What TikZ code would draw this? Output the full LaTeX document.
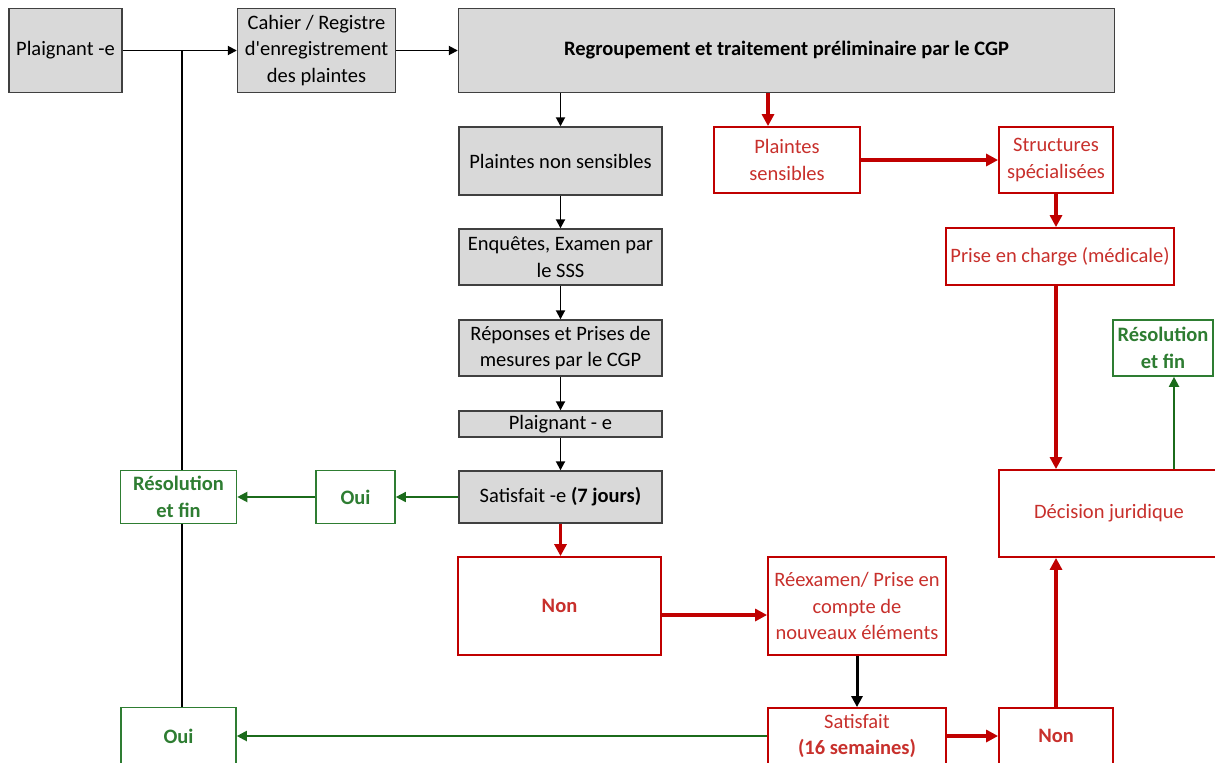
\documentclass[tikz,border=0pt]{standalone}
\usepackage{fontspec}
\setmainfont{Carlito}
\usetikzlibrary{arrows.meta}
\definecolor{boxgray}{HTML}{D9D9D9}
\definecolor{edgegray}{HTML}{404040}
\definecolor{alertred}{HTML}{C00000}
\definecolor{alerttext}{HTML}{C8302C}
\definecolor{okgreen}{HTML}{2E7D32}
\definecolor{okarrow}{HTML}{1B6B1B}

\begin{document}
\begin{tikzpicture}[
  x=0.5pt,y=-0.5pt,
  every node/.style={font=\fontsize{10.25}{13.2}\selectfont,align=center,inner sep=2pt},
  sz/.style 2 args={minimum width=#1*0.5pt,minimum height=#2*0.5pt},
  graybox/.style={draw=edgegray,fill=boxgray,line width=0.7pt},
  redbox/.style={draw=alertred,fill=white,line width=0.9pt,text=alerttext},
  greenbox/.style={draw=okgreen,fill=white,line width=0.8pt,text=okgreen,
    font=\fontsize{10.25}{13.2}\selectfont\bfseries},
  blk/.style={-{Triangle[length=4.5pt,width=4.5pt]},line width=0.9pt},
  blkthick/.style={-{Triangle[length=5.5pt,width=5.5pt]},line width=1.5pt},
  redarr/.style={-{Triangle[length=6pt,width=6pt]},line width=1.6pt,draw=alertred},
  grnarr/.style={-{Triangle[length=5pt,width=5pt]},line width=0.8pt,draw=okarrow}
]
  \useasboundingbox (0,0) rectangle (1215,762);
  \clip (0,0) rectangle (1215,762);

  % intake row
  \node[graybox,sz={113}{84}] (plaig) at (65.5,50.5) {Plaignant -e};
  \node[graybox,sz={158}{84}] (cahier) at (316.5,50.5)
    {Cahier / Registre\\d\textquotesingle enregistrement\\des plaintes};
  \node[graybox,sz={656}{84},font=\fontsize{10.25}{13.2}\selectfont\bfseries] (regroup)
    at (786.5,50.5) {Regroupement et traitement préliminaire par le CGP};

  % non-sensitive track
  \node[graybox,sz={203}{68}] (nonsens) at (560.5,161) {Plaintes non sensibles};
  \node[graybox,sz={203}{56}] (enquete) at (560.5,257) {Enquêtes, Examen par\\le SSS};
  \node[graybox,sz={203}{56}] (reponse) at (560.5,348)
    {Réponses et Prises de\\mesures par le CGP};
  \node[graybox,sz={203}{26}] (plaigb) at (560.5,424) {Plaignant - e};
  \node[graybox,sz={203}{52}] (satsept) at (560.5,497)
    {Satisfait -e \textbf{(7 jours)}};
  \node[greenbox,sz={79}{53}] (ouiA) at (355.5,497) {Oui};
  \node[greenbox,sz={116}{53}] (resolA) at (178.5,497) {Résolution\\et fin};
  \node[redbox,sz={203}{98},font=\fontsize{10.25}{13.2}\selectfont\bfseries] (nonA)
    at (559.5,606) {Non};
  \node[redbox,sz={178}{98}] (reexam) at (857,606)
    {Réexamen/ Prise en\\compte de\\nouveaux éléments};
  \node[redbox,sz={178}{56}] (satseize) at (857,736)
    {Satisfait\\\textbf{(16 semaines)}};
  \node[redbox,sz={114}{56},font=\fontsize{10.25}{13.2}\selectfont\bfseries] (nonB)
    at (1056,736) {Non};
  \node[greenbox,sz={115}{57}] (ouiB) at (178.5,736) {Oui};

  % sensitive track
  \node[redbox,sz={146}{66}] (sens) at (787,160) {Plaintes\\sensibles};
  \node[redbox,sz={114}{66}] (struct) at (1056,160) {Structures\\spécialisées};
  \node[redbox,sz={228}{57}] (prise) at (1060,256.5) {Prise en charge (médicale)};
  \node[redbox,sz={220}{87}] (decis) at (1109,513.5) {Décision juridique};
  \node[greenbox,sz={100}{56}] (resolB) at (1163,348) {Résolution\\et fin};

  % connectors
  \coordinate (tap) at (182,50.5);
  \draw[line width=0.6pt] (tap) -- (tap |- resolA.north);
  \draw[line width=0.6pt] (tap |- resolA.south) -- (tap |- ouiB.north);
  \draw[blk] (plaig) -- (cahier);
  \draw[blk] (cahier) -- (regroup.west |- cahier);
  \draw[blk] (regroup.south -| nonsens) -- (nonsens);
  \foreach \a/\b in {nonsens/enquete,enquete/reponse,reponse/plaigb,plaigb/satsept}
    \draw[blk] (\a) -- (\b);
  \draw[grnarr] (satsept.west) -- (satsept.west -| ouiA.east);
  \draw[grnarr,line width=1pt] (ouiA) -- (resolA);
  \draw[redarr] (satsept.south) -- (satsept.south |- nonA.north);
  \draw[redarr] ([yshift=-4.5pt]nonA.east) -- ([yshift=-4.5pt]reexam.west);
  \draw[blkthick] (reexam) -- (satseize);
  \draw[redarr] (satseize) -- (nonB);
  \draw[grnarr,line width=1pt] (satseize.west) -- (satseize.west -| ouiB.east);
  \draw[redarr] (nonB.north) -- (nonB.north |- decis.south);

  \draw[redarr] ([xshift=-9.5pt]regroup.south -| sens) -- ([xshift=-9.5pt]sens.north);
  \draw[redarr] (sens) -- (struct);
  \draw[redarr] (struct.south) -- (struct.south |- prise.north);
  \draw[redarr] (struct.south |- prise.south) -- (struct.south |- decis.north);
  \draw[grnarr,line width=1pt] ([xshift=5.5pt]resolB.south |- decis.north)
    -- ([xshift=5.5pt]resolB.south);
\end{tikzpicture}
\end{document}
